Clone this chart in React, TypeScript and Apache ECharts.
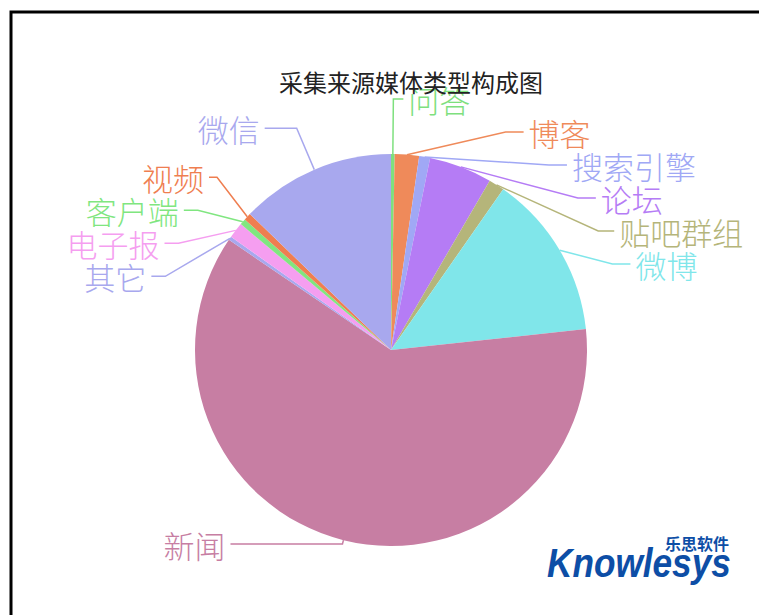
import React, { useEffect, useRef } from "react";
import * as echarts from "echarts";

const categories = ["问答", "博客", "搜索引擎", "论坛", "贴吧群组", "微博", "新闻", "其它", "电子报", "客户端", "视频", "微信"];
const values = [0.3, 2.0, 0.9, 5.2, 1.3, 13.6, 61.2, 0.3, 1.3, 0.5, 0.6, 12.8];
const colors = ["#7ee07e", "#ef8a5a", "#a0a8f5", "#b57cf5", "#b5b57a", "#80e6ea", "#c77ea3", "#a8a8ee", "#f59ef0", "#80e680", "#ef7e50", "#a8a8ee"];
const titleText = "采集来源媒体类型构成图";

const lineOverrides: Record<string, { length: number; length2: number }> = {
  问答: { length: 55, length2: 10 },
  博客: { length: 45, length2: 18 },
  搜索引擎: { length: 45, length2: 18 },
  论坛: { length: 45, length2: 18 },
  贴吧群组: { length: 45, length2: 16 },
  微博: { length: 45, length2: 18 },
  新闻: { length: 4, length2: 112 },
  其它: { length: 46, length2: 14 },
  电子报: { length: 46, length2: 14 },
  客户端: { length: 46, length2: 14 },
  视频: { length: 58, length2: 8 },
  微信: { length: 45, length2: 32 },
};

export default function App() {
  const ref = useRef<HTMLDivElement>(null);
  useEffect(() => {
    if (!ref.current) return;
    const chart = echarts.init(ref.current, null, { renderer: "svg" });
    const data = categories.map((name, i) => ({
      name,
      value: values[i],
      itemStyle: { color: colors[i] },
      label: { color: colors[i] },
      labelLine: {
        ...(lineOverrides[name] || {}),
        lineStyle: { color: colors[i] },
      },
    }));
    chart.setOption({
      animation: false,
      backgroundColor: "#ffffff",
      title: {
        text: titleText,
        left: 274,
        top: 64,
        textStyle: {
          fontFamily: "Noto Sans CJK SC",
          fontSize: 24,
          fontWeight: "normal",
          color: "#222",
        },
      },
      graphic: [
        {
          type: "rect",
          shape: { x: 11, y: 12, width: 800, height: 700 },
          style: { fill: "none", stroke: "#000", lineWidth: 3 },
          z: 100,
        },
        {
          type: "text",
          x: 547,
          y: 543,
          scaleX: 0.88,
          style: {
            text: "Knowlesys",
            fontFamily: "Liberation Sans",
            fontWeight: "bold",
            fontStyle: "italic",
            fontSize: 40,
            fill: "#0d4ea6",
          },
        },
        {
          type: "text",
          x: 665,
          y: 535,
          style: {
            text: "乐思软件",
            fontFamily: "Noto Sans CJK SC",
            fontWeight: "bold",
            fontSize: 16,
            fill: "#0d4ea6",
          },
        },
      ],
      series: [
        {
          type: "pie",
          center: [391, 350],
          radius: 196,
          startAngle: 90,
          clockwise: true,
          avoidLabelOverlap: true,
          data,
          label: {
            show: true,
            position: "outside",
            fontFamily: "Noto Sans CJK SC",
            fontSize: 31,
            lineHeight: 27,
            fontWeight: 300,
            overflow: "none",
          },
          labelLine: {
            show: true,
            length: 45,
            length2: 30,
            lineStyle: { width: 1.5 },
          },
        },
      ],
    });
    return () => chart.dispose();
  }, []);
  return (
    <div
      ref={ref}
      style={{ position: "fixed", left: 0, top: 0, width: 759, height: 615 }}
    />
  );
}
